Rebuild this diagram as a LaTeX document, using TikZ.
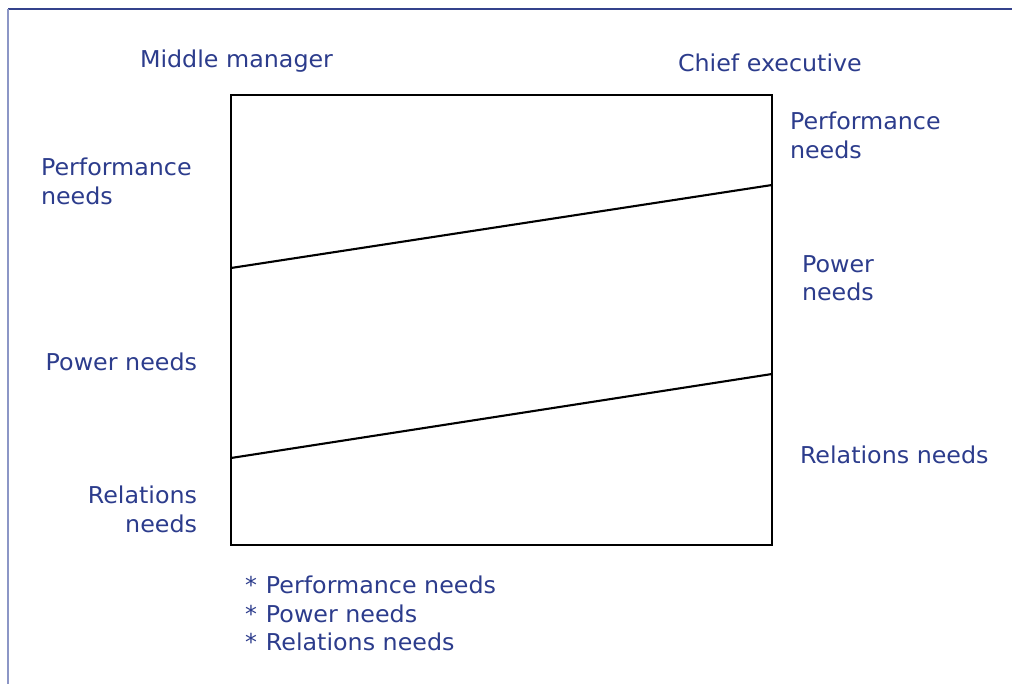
\documentclass[tikz,border=0pt]{standalone}
\usepackage{fontspec}
\setmainfont{DejaVu Sans}[FakeStretch=1.025]
\definecolor{txtblue}{RGB}{44,60,140}
\definecolor{rulenavy}{RGB}{52,66,140}
\definecolor{rulelight}{RGB}{140,150,198}
\begin{document}
\begin{tikzpicture}[x=1pt,y=-1pt,
  lbl/.style={inner sep=0pt,outer sep=0pt,text=txtblue,font=\fontsize{23.2}{28.4}\selectfont},
  boxline/.style={line width=2.3pt,black},
  divline/.style={line width=2.1pt,black}]
\useasboundingbox (0,0) rectangle (1012,684);
% frame rules
\draw[rulenavy,line width=1.6pt] (8,9) -- (1012,9);
\draw[rulelight,line width=2.4pt] (8,9) -- (8,684);
% box
\coordinate (tl) at (231,95);
\coordinate (br) at (772,545);
\draw[boxline] (tl) rectangle (br);
\coordinate (l1) at (231,268);
\coordinate (r1) at (772,185);
\coordinate (l2) at (231,458);
\coordinate (r2) at (772,374);
\draw[divline] (l1) -- (r1);
\draw[divline] (l2) -- (r2);
% headings
\node[lbl,anchor=base west] (mm) at (140,68) {Middle manager};
\node[lbl,anchor=base west] (ce) at (678,72) {Chief executive};
% left labels
\node[lbl,anchor=base west] (lp1) at (41,176) {Performance};
\node[lbl,anchor=base west] (lp2) at (41,204.5) {needs};
\node[lbl,anchor=base east] (lpw) at (197,371) {Power needs};
\node[lbl,anchor=base east] (lr1) at (197,503) {Relations};
\node[lbl,anchor=base east] (lr2) at (197,532) {needs};
% right labels
\node[lbl,anchor=base west] (rp1) at (790,130) {Performance};
\node[lbl,anchor=base west] (rp2) at (790,159) {needs};
\node[lbl,anchor=base west] (rw1) at (802,272.5) {Power};
\node[lbl,anchor=base west] (rw2) at (802,301) {needs};
\node[lbl,anchor=base west] (rr) at (800,463) {Relations needs};
% bottom list
\node[lbl,anchor=base west] (b1) at (245,593.5) {* \kern1.5pt Performance needs};
\node[lbl,anchor=base west] (b2) at (245,622) {* \kern1.5pt Power needs};
\node[lbl,anchor=base west] (b3) at (245,650.5) {* \kern1.5pt Relations needs};
\end{tikzpicture}
\end{document}
